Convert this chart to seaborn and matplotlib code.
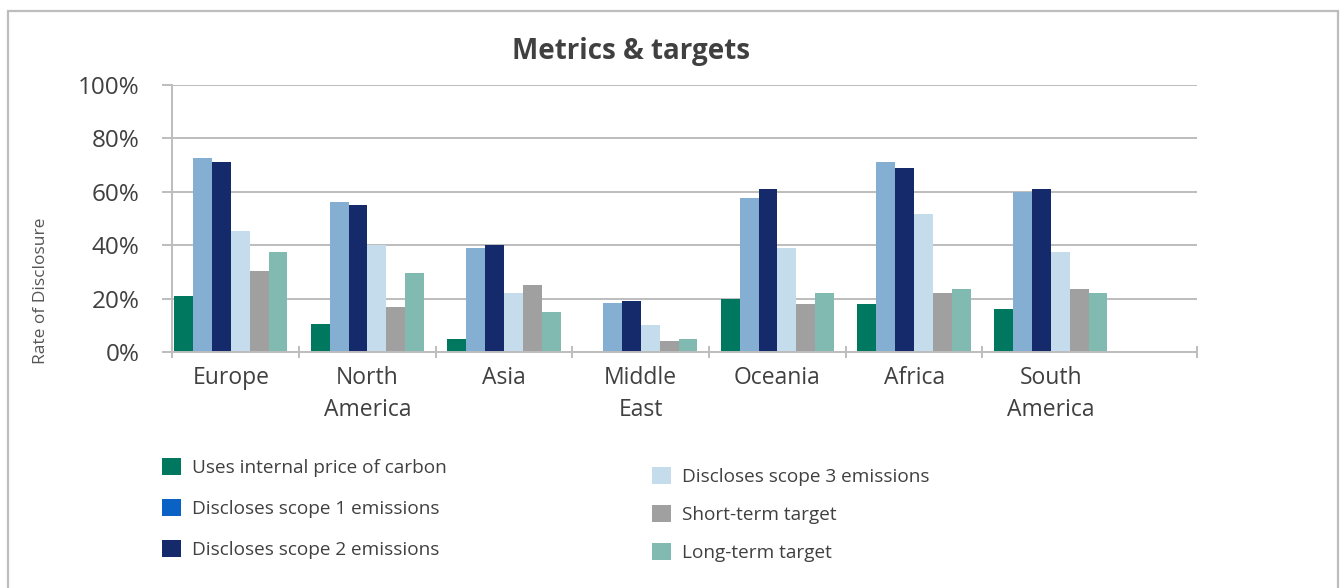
import matplotlib.pyplot as plt
import pandas as pd
import seaborn as sns
from matplotlib.patches import Patch, Rectangle

# DATOS

regions = ["Europe", "North\nAmerica", "Asia", "Middle\nEast",
           "Oceania", "Africa", "South\nAmerica"]

internal_carbon_price = [21, 10.5, 5, 0, 20, 18, 16]
scope1 = [72.5, 56, 39, 18.5, 57.5, 71, 60]
scope2 = [71, 55, 40, 19, 61, 69, 61]
scope3 = [45.5, 40, 22, 10, 39, 51.5, 37.5]
short_term = [30.5, 17, 25, 4, 18, 22, 23.5]
long_term = [37.5, 29.5, 15, 5, 22, 23.5, 22]

series_names = [
    "Uses internal price of carbon",
    "Discloses scope 1 emissions",
    "Discloses scope 2 emissions",
    "Discloses scope 3 emissions",
    "Short-term target",
    "Long-term target",
]

bar_colors = ["#00775f", "#84aed2", "#152a6b", "#c4dcec", "#a0a0a0", "#80bab0"]
legend_colors = ["#00775f", "#0a62c4", "#152a6b", "#c4dcec", "#a0a0a0", "#80bab0"]

df = pd.DataFrame({
    "region": regions * 6,
    "series": [s for s in series_names for _ in regions],
    "value": (internal_carbon_price + scope1 + scope2
              + scope3 + short_term + long_term),
})

# ESTILO

sns.set_theme(style="white")
plt.rcParams["font.family"] = ["Open Sans", "DejaVu Sans"]
text_color = "#404040"
grid_color = "#bdbdbd"

fig = plt.figure(figsize=(13.44, 5.88), dpi=100)
ax = fig.add_axes([172 / 1344, 1 - 352 / 588, 1025 / 1344, 267 / 588])

sns.barplot(
    data=df,
    x="region",
    y="value",
    hue="series",
    order=regions,
    hue_order=series_names,
    palette=bar_colors,
    width=0.83,
    gap=0,
    saturation=1,
    linewidth=0,
    edgecolor="none",
    legend=False,
    ax=ax,
)

ax.set_xlim(-0.43, 7.07)
ax.set_ylim(0, 100)

ax.set_yticks(range(0, 101, 20))
ax.set_yticklabels([f"{v}%" for v in range(0, 101, 20)])
ax.yaxis.grid(True, color=grid_color, linewidth=1.4)
ax.set_axisbelow(True)

ax.set_xticks(range(len(regions)))
ax.set_xticklabels(regions, linespacing=1.45)
ax.set_xticks([-0.43] + [i + 0.5 for i in range(6)] + [7.07], minor=True)
ax.tick_params(axis="x", which="major", length=0, pad=10,
               labelsize=16.5, labelcolor=text_color)
ax.tick_params(axis="x", which="minor", direction="inout", length=8,
               width=1.4, color=grid_color, bottom=True)
ax.tick_params(axis="y", direction="out", length=7, width=1.4,
               color=grid_color, labelsize=17.5, labelcolor=text_color,
               pad=16.5, left=True)

for side in ["top", "right"]:
    ax.spines[side].set_visible(False)
for side in ["left", "bottom"]:
    ax.spines[side].set_color(grid_color)
    ax.spines[side].set_linewidth(1.4)

ax.set_xlabel("")
ax.set_ylabel("")

# TITULOS

fig.text(631 / 1344, 1 - 52 / 588, "Metrics & targets", ha="center",
         va="center", fontsize=20, fontweight="bold", color=text_color)
fig.text(41 / 1344, 1 - 291 / 588, "Rate of Disclosure", ha="center",
         va="center", rotation=90, fontsize=12.5, color="#555555")

# LEYENDA

handles = [Patch(facecolor=c, edgecolor="none") for c in legend_colors]

leg_kw = dict(
    frameon=False,
    fontsize=13.7,
    handlelength=1.0,
    handleheight=1.0,
    handletextpad=0.6,
    borderpad=0,
    borderaxespad=0,
    labelcolor=text_color,
    loc="upper left",
)

fig.legend(handles=handles[:3], labels=series_names[:3],
           bbox_to_anchor=(162 / 1344, 1 - 458 / 588),
           labelspacing=1.15, **leg_kw)
fig.legend(handles=handles[3:], labels=series_names[3:],
           bbox_to_anchor=(652 / 1344, 1 - 467 / 588),
           labelspacing=1.0, **leg_kw)

# MARCO

fig.add_artist(Rectangle(
    (8 / 1344, -0.1), 1330 / 1344, 1.1 - 11 / 588,
    transform=fig.transFigure, fill=False,
    edgecolor=grid_color, linewidth=1.6,
))

fig.savefig("out.png", dpi=100)
plt.close()
